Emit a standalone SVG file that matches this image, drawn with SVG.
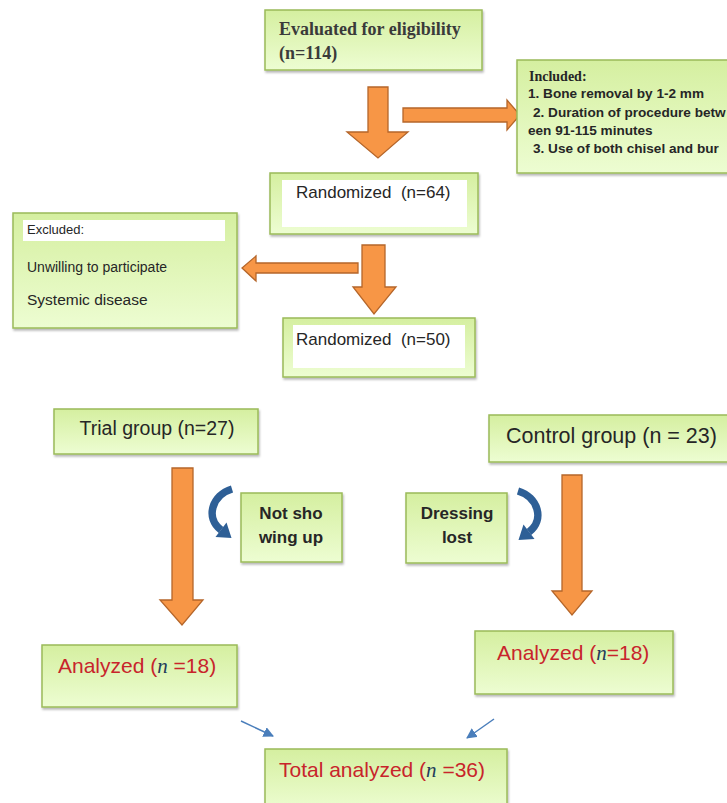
<svg xmlns="http://www.w3.org/2000/svg" width="727" height="803" viewBox="0 0 727 803">
<defs>
  <linearGradient id="g" x1="0" y1="0" x2="0" y2="1">
    <stop offset="0" stop-color="#d5efa0"/>
    <stop offset="1" stop-color="#edfdd2"/>
  </linearGradient>
  <filter id="sh" x="-10%" y="-10%" width="130%" height="140%">
    <feDropShadow dx="1" dy="2" stdDeviation="1.2" flood-color="#000" flood-opacity="0.28"/>
  </filter>
  <marker id="bh" viewBox="0 0 10 10" refX="9" refY="5" markerWidth="7" markerHeight="7" orient="auto" markerUnits="strokeWidth">
    <path d="M0,0 L10,5 L0,10 z" fill="#4a7ebb"/>
  </marker>
  <g id="curve">
    <path d="M232,489 C212,495 205,518 221,530" fill="none" stroke="#2e5f96" stroke-width="7.5"/>
    <polygon points="215.5,537 226.5,522.5 231.5,538" fill="#2e5f96"/>
  </g>
</defs>
<style>
  .box{fill:url(#g);stroke:#9bbb59;stroke-width:1.5;filter:url(#sh)}
  .inner{fill:#ffffff;stroke:none}
  .oa{fill:#f79646;stroke:#b5662a;stroke-width:1.3}
  .t{font-family:"Liberation Sans",Arial,sans-serif;fill:#262626}
  .c{text-anchor:middle}
  .b{font-weight:bold}
  .r{fill:#c8242b}
  .n{font-family:"Liberation Serif","Times New Roman",serif;font-style:italic;fill:#243c5a}
  .bl{stroke:#4a7ebb;stroke-width:1.5;fill:none}
</style>
<rect width="727" height="803" fill="#ffffff"/>

<g id="connectors">
  <polygon class="oa" points="368,87 388,87 388,132 408,132 378,158 347,132 368,132"/>
  <polygon class="oa" points="403,108 507,108 507,100 520,115 507,130 507,122 403,122"/>
  <polygon class="oa" points="362,245 385,245 385,287 396,287 374,314 353,287 362,287"/>
  <polygon class="oa" points="358,263 256,263 256,256 242,268 256,281 256,273 358,273"/>
  <polygon class="oa" points="172,468 193,468 193,600 203,600 182,625 160,600 172,600"/>
  <polygon class="oa" points="562,475 582,475 582,591 592,591 572,615 552,591 562,591"/>
  <use href="#curve"/>
  <use href="#curve" transform="translate(750,2) scale(-1,1)"/>
  <line class="bl" x1="241" y1="721" x2="273" y2="736" marker-end="url(#bh)"/>
  <line class="bl" x1="494" y1="719" x2="467" y2="738" marker-end="url(#bh)"/>
</g>

<g id="evaluated">
  <rect class="box" x="265" y="10" width="217" height="60"/>
  <text class="t" x="279" y="35" style="font-family:'Liberation Serif','Times New Roman',serif;font-weight:bold;font-size:18px;fill:#3a3a3a">Evaluated for eligibility</text>
  <text class="t" x="279" y="59" style="font-family:'Liberation Serif','Times New Roman',serif;font-weight:bold;font-size:18px;fill:#3a3a3a">(n=114)</text>
</g>

<g id="included">
  <rect class="box" x="517" y="60" width="230" height="113"/>
  <text class="t" x="529" y="81" style="font-family:'Liberation Serif','Times New Roman',serif;font-weight:bold;font-size:14px">Included:</text>
  <text class="t b" x="528" y="98" style="font-size:13.6px">1. Bone removal by 1-2 mm</text>
  <text class="t b" x="533" y="117" style="font-size:13.6px">2. Duration of procedure betw</text>
  <text class="t b" x="528" y="135" style="font-size:13.6px">een 91-115 minutes</text>
  <text class="t b" x="533" y="153" style="font-size:13.6px">3. Use of both chisel and bur</text>
</g>

<g id="randomized64">
  <rect class="box" x="270" y="173" width="208" height="61"/>
  <rect class="inner" x="282" y="180" width="185" height="47"/>
  <text class="t" x="296" y="198" style="font-size:17px;white-space:pre">Randomized  (n=64)</text>
</g>

<g id="excluded">
  <rect class="box" x="13" y="213" width="224" height="115"/>
  <rect class="inner" x="23" y="220" width="202" height="21"/>
  <text class="t" x="27" y="234" style="font-size:13px">Excluded:</text>
  <text class="t" x="27" y="272" style="font-size:14px">Unwilling to participate</text>
  <text class="t" x="27" y="305" style="font-size:15.5px">Systemic disease</text>
</g>

<g id="randomized50">
  <rect class="box" x="283" y="318" width="192" height="59"/>
  <rect class="inner" x="293" y="325" width="172" height="43"/>
  <text class="t" x="296" y="345" style="font-size:17px;white-space:pre">Randomized  (n=50)</text>
</g>

<g id="trial">
  <rect class="box" x="54" y="409" width="204" height="45"/>
  <text class="t c" x="157" y="435" style="font-size:19.5px">Trial group (n=27)</text>
</g>

<g id="control">
  <rect class="box" x="489" y="415" width="250" height="47"/>
  <text class="t" x="506" y="443" style="font-size:21.5px">Control group (n = 23)</text>
</g>

<g id="notshowing">
  <rect class="box" x="241" y="493" width="101" height="69"/>
  <text class="t c b" x="291" y="519" style="font-size:17px">Not sho</text>
  <text class="t c b" x="291" y="543" style="font-size:17px">wing up</text>
</g>

<g id="dressing">
  <rect class="box" x="406" y="493" width="101" height="70"/>
  <text class="t c b" x="457" y="519" style="font-size:17px">Dressing</text>
  <text class="t c b" x="457" y="543" style="font-size:17px">lost</text>
</g>

<g id="analyzedL">
  <rect class="box" x="42" y="645" width="195" height="62"/>
  <text class="t r" x="58" y="673" style="font-size:21px;white-space:pre">Analyzed (<tspan class="n">n</tspan> =18)</text>
</g>

<g id="analyzedR">
  <rect class="box" x="475" y="631" width="198" height="63"/>
  <text class="t r" x="497" y="660" style="font-size:21px">Analyzed (<tspan class="n">n</tspan>=18)</text>
</g>

<g id="total">
  <rect class="box" x="265" y="749" width="242" height="62"/>
  <text class="t r" x="279" y="777" style="font-size:21px;white-space:pre">Total analyzed (<tspan class="n">n</tspan> =36)</text>
</g>
</svg>
